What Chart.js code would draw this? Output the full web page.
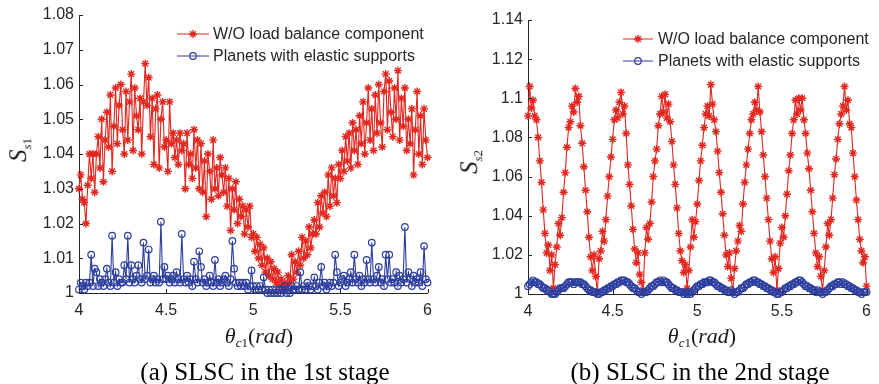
<!DOCTYPE html>
<html>
<head>
<meta charset="utf-8">
<script src="https://cdn.jsdelivr.net/npm/chart.js@4.4.1/dist/chart.umd.min.js"></script>
<style>
  html, body { margin: 0; padding: 0; background: #fff; }
  #wrap { position: relative; width: 879px; height: 384px; overflow: hidden; background: #fff; }
  .pane { position: absolute; top: 0; height: 384px; }
  .lbl { position: absolute; white-space: nowrap; font-family: "Liberation Serif", "Times New Roman", serif; color: #1a1a1a; transform: translate(-50%, -50%); line-height: 1; }
  .ytitle { transform: translate(-50%, -50%) rotate(-90deg); font-size: 25px; }
  .xtitle { font-size: 22px; }
  .xtitle sub, .ytitle sub { font-size: 13px; vertical-align: -0.35em; }
  .cap { font-size: 25px; color: #000; }
</style>
</head>
<body>
<div id="wrap">
  <div class="pane" style="left:0;width:440px;"><canvas id="c1" width="440" height="384"></canvas></div>
  <div class="pane" style="left:440px;width:439px;"><canvas id="c2" width="439" height="384"></canvas></div>
  <div class="lbl ytitle" style="left:19px;top:150px;"><i>S</i><sub><i>s</i>1</sub></div>
  <div class="lbl ytitle" style="left:470px;top:162px;"><i>S</i><sub><i>s</i>2</sub></div>
  <div class="lbl xtitle" style="left:259px;top:337px;"><i>θ</i><sub><i>c</i>1</sub>(<i>rad</i>)</div>
  <div class="lbl xtitle" style="left:702px;top:337px;"><i>θ</i><sub><i>c</i>1</sub>(<i>rad</i>)</div>
  <div class="lbl cap" style="left:265px;top:371px;">(a) SLSC in the 1st stage</div>
  <div class="lbl cap" style="left:700px;top:371px;">(b) SLSC in the 2nd stage</div>
</div>
<script>
// ---- sampling of the carrier angle (rad) ----
const THETA_START = 4;
const THETA_STEP = 0.01;
const THETA_COUNT = 201;

// ---- series names ----
const seriesNames = ['W/O load balance component', 'Planets with elastic supports'];

// ---- axis ticks ----
const xTicks = [4, 4.5, 5, 5.5, 6];
const yTicksStage1 = [1, 1.01, 1.02, 1.03, 1.04, 1.05, 1.06, 1.07, 1.08];
const yTicksStage2 = [1, 1.02, 1.04, 1.06, 1.08, 1.1, 1.12, 1.14];

// ---- (a) 1st stage: W/O load balance component ----
const stage1WithoutLB = [
  1.030,1.034,1.027,1.026,1.020,1.031,1.040,1.033,1.040,1.029,
  1.040,1.045,1.036,1.050,1.032,1.044,1.052,1.042,1.057,1.035,
  1.048,1.059,1.043,1.054,1.060,1.047,1.040,1.058,1.044,1.055,
  1.063,1.041,1.059,1.051,1.047,1.056,1.040,1.055,1.066,1.054,
  1.062,1.045,1.056,1.037,1.053,1.057,1.036,1.050,1.055,1.042,
  1.044,1.035,1.055,1.043,1.046,1.039,1.044,1.037,1.046,1.041,
  1.043,1.030,1.046,1.037,1.040,1.033,1.047,1.036,1.044,1.030,
  1.043,1.029,1.038,1.022,1.040,1.035,1.027,1.044,1.030,1.036,
  1.028,1.039,1.034,1.029,1.036,1.025,1.033,1.018,1.030,1.024,
  1.032,1.020,1.027,1.022,1.025,1.017,1.024,1.019,1.025,1.016,
  1.017,1.012,1.016,1.010,1.014,1.008,1.013,1.006,1.010,1.005,
  1.009,1.004,1.007,1.003,1.006,1.002,1.004,1.001,1.003,1.002,
  1.005,1.003,1.011,1.004,1.009,1.006,1.012,1.008,1.016,1.010,
  1.015,1.011,1.019,1.013,1.017,1.021,1.017,1.026,1.019,1.028,
  1.023,1.029,1.022,1.034,1.025,1.036,1.028,1.033,1.026,1.037,
  1.033,1.041,1.035,1.045,1.038,1.046,1.036,1.049,1.041,1.047,
  1.037,1.051,1.043,1.055,1.040,1.049,1.059,1.044,1.053,1.041,
  1.057,1.046,1.060,1.049,1.042,1.058,1.063,1.047,1.061,1.052,
  1.045,1.059,1.050,1.064,1.044,1.056,1.048,1.059,1.041,1.050,
  1.043,1.053,1.034,1.047,1.058,1.040,1.051,1.037,1.053,1.044,
  1.039
];

// ---- (a) 1st stage: Planets with elastic supports ----
const stage1Elastic = [
  1.001,1.003,1.002,1.001,1.003,1.002,1.003,1.011,1.002,1.007,
  1.006,1.002,1.004,1.003,1.002,1.004,1.007,1.003,1.002,1.0165,
  1.003,1.006,1.002,1.004,1.003,1.003,1.008,1.004,1.0165,1.003,
  1.008,1.004,1.003,1.005,1.008,1.004,1.003,1.0145,1.004,1.005,
  1.0125,1.003,1.004,1.005,1.003,1.004,1.003,1.0205,1.004,1.0075,
  1.004,1.005,1.003,1.004,1.005,1.003,1.006,1.004,1.003,1.017,
  1.004,1.003,1.005,1.003,1.004,1.002,1.009,1.004,1.003,1.012,
  1.0075,1.003,1.004,1.002,1.003,1.005,1.003,1.002,1.0095,1.003,
  1.004,1.002,1.003,1.004,1.005,1.003,1.002,1.004,1.015,1.007,
  1.003,1.002,1.003,1.002,1.003,1.002,1.003,1.001,1.002,1.0065,
  1.002,1.001,1.002,1.001,1.002,1.001,1.0045,1.001,1.000,1.001,
  1.000,1.001,1.000,1.001,1.000,1.001,1.000,1.001,1.002,1.000,
  1.001,1.000,1.002,1.001,1.001,1.002,1.001,1.006,1.001,1.002,
  1.001,1.003,1.002,1.001,1.002,1.0045,1.002,1.001,1.003,1.0075,
  1.002,1.003,1.001,1.002,1.003,1.002,1.003,1.011,1.006,1.002,
  1.003,1.004,1.005,1.002,1.003,1.004,1.006,1.003,1.011,1.004,
  1.003,1.005,1.002,1.004,1.003,1.0095,1.004,1.003,1.0145,1.004,
  1.003,1.005,1.0075,1.003,1.004,1.002,1.011,1.004,1.011,1.003,
  1.004,1.003,1.006,1.002,1.005,1.003,1.004,1.019,1.003,1.006,
  1.004,1.002,1.005,1.003,1.004,1.003,1.006,1.002,1.0135,1.004,
  1.003
];

// ---- (b) 2nd stage: W/O load balance component ----
const stage2WithoutLB = [
  1.091,1.106,1.095,1.099,1.091,1.089,1.080,1.068,1.057,1.043,
  1.031,1.021,1.025,1.012,1.020,1.003,1.015,1.024,1.036,1.030,
  1.039,1.052,1.062,1.075,1.085,1.088,1.096,1.093,1.105,1.098,
  1.101,1.086,1.077,1.065,1.053,1.042,1.029,1.019,1.012,1.020,
  1.009,1.001,1.018,1.022,1.032,1.027,1.038,1.050,1.060,1.070,
  1.079,1.089,1.094,1.090,1.098,1.103,1.092,1.096,1.082,1.066,
  1.056,1.045,1.033,1.023,1.016,1.021,1.010,1.006,1.002,1.021,
  1.034,1.028,1.036,1.047,1.060,1.068,1.074,1.086,1.092,1.101,
  1.093,1.102,1.090,1.097,1.088,1.078,1.066,1.056,1.044,1.031,
  1.022,1.017,1.011,1.015,1.003,1.012,1.024,1.038,1.029,1.037,
  1.046,1.058,1.068,1.076,1.085,1.092,1.096,1.091,1.107,1.097,
  1.089,1.083,1.073,1.062,1.052,1.041,1.030,1.020,1.014,1.021,
  1.008,1.001,1.013,1.022,1.027,1.035,1.032,1.046,1.057,1.066,
  1.074,1.082,1.089,1.092,1.098,1.094,1.106,1.093,1.083,1.071,
  1.060,1.049,1.038,1.027,1.018,1.011,1.019,1.002,1.013,1.026,
  1.034,1.029,1.040,1.051,1.063,1.071,1.082,1.089,1.099,1.092,
  1.100,1.094,1.100,1.089,1.082,1.072,1.064,1.053,1.042,1.031,
  1.021,1.014,1.019,1.009,1.002,1.012,1.024,1.036,1.030,1.038,
  1.049,1.061,1.069,1.079,1.087,1.092,1.096,1.106,1.094,1.099,
  1.087,1.085,1.072,1.060,1.048,1.038,1.028,1.022,1.016,1.019,
  1.004
];

// ---- (b) 2nd stage: Planets with elastic supports ----
const stage2Elastic = [
  1.004,1.005,1.006,1.007,1.006,1.006,1.005,1.005,1.004,1.003,
  1.003,1.002,1.002,1.001,1.000,1.000,1.000,1.001,1.002,1.003,
  1.003,1.003,1.004,1.005,1.006,1.006,1.006,1.005,1.006,1.006,
  1.006,1.006,1.005,1.005,1.004,1.003,1.002,1.002,1.001,1.001,
  1.001,1.000,1.000,1.001,1.001,1.002,1.002,1.003,1.003,1.004,
  1.004,1.005,1.005,1.006,1.006,1.007,1.007,1.007,1.006,1.006,
  1.005,1.004,1.003,1.003,1.002,1.001,1.001,1.000,1.001,1.001,
  1.001,1.002,1.003,1.004,1.004,1.005,1.006,1.006,1.007,1.006,
  1.007,1.006,1.006,1.005,1.004,1.003,1.003,1.002,1.002,1.001,
  1.001,1.001,1.000,1.001,1.000,1.001,1.000,1.001,1.002,1.003,
  1.004,1.004,1.005,1.005,1.006,1.006,1.006,1.007,1.007,1.006,
  1.006,1.005,1.004,1.004,1.003,1.003,1.002,1.002,1.001,1.001,
  1.002,1.001,1.000,1.001,1.001,1.002,1.003,1.003,1.004,1.005,
  1.005,1.006,1.006,1.007,1.007,1.006,1.006,1.005,1.005,1.004,
  1.004,1.003,1.003,1.002,1.002,1.001,1.001,1.000,1.000,1.001,
  1.001,1.002,1.003,1.003,1.004,1.004,1.005,1.005,1.006,1.006,
  1.007,1.007,1.006,1.005,1.004,1.004,1.003,1.003,1.002,1.002,
  1.001,1.002,1.001,1.001,1.000,1.001,1.001,1.002,1.003,1.004,
  1.004,1.005,1.005,1.006,1.006,1.005,1.006,1.005,1.005,1.004,
  1.004,1.003,1.003,1.002,1.002,1.001,1.001,1.000,1.001,1.001,
  1.001
];

// ---------------- rendering ----------------
const RED = '#e3271f';
const BLUE = '#2b3d9e';
const AXIS = '#262626';
const SANS = '"Liberation Sans", Arial, Helvetica, sans-serif';

const theta = Array.from({ length: THETA_COUNT }, (_, i) => +(THETA_START + i * THETA_STEP).toFixed(2));
const toPts = (vals) => vals.map((v, i) => ({ x: theta[i], y: v }));
const fmt = (v) => String(Number(Number(v).toFixed(3)));

// inward MATLAB-style tick marks, drawn through the scales
const innerTicks = {
  id: 'innerTicks',
  afterDraw(chart) {
    const { ctx, chartArea, scales } = chart;
    ctx.save();
    ctx.strokeStyle = AXIS;
    ctx.lineWidth = 1;
    ctx.beginPath();
    scales.x.ticks.forEach(t => {
      const px = Math.round(scales.x.getPixelForValue(t.value)) + 0.5;
      ctx.moveTo(px, chartArea.bottom);
      ctx.lineTo(px, chartArea.bottom - 4);
    });
    scales.y.ticks.forEach(t => {
      const py = Math.round(scales.y.getPixelForValue(t.value)) + 0.5;
      ctx.moveTo(chartArea.left, py);
      ctx.lineTo(chartArea.left + 4, py);
    });
    ctx.stroke();
    ctx.restore();
  }
};

// MATLAB-style legend: line segment with centred marker, text at left
const lineLegend = {
  id: 'lineLegend',
  afterDraw(chart, args, opts) {
    const { ctx } = chart;
    ctx.save();
    ctx.font = '16px ' + SANS;
    ctx.textBaseline = 'middle';
    chart.data.datasets.forEach((ds, i) => {
      const y = opts.y + i * opts.gap;
      ctx.strokeStyle = ds.borderColor;
      ctx.lineWidth = 1;
      ctx.beginPath();
      ctx.moveTo(opts.x0, y);
      ctx.lineTo(opts.x1, y);
      ctx.stroke();
      ctx.fillStyle = ds.pointBackgroundColor;
      ctx.strokeStyle = ds.pointBorderColor;
      ctx.lineWidth = ds.pointBorderWidth;
      Chart.helpers.drawPoint(ctx, {
        pointStyle: ds.pointStyle, radius: ds.pointRadius,
        borderWidth: ds.pointBorderWidth, rotation: 0
      }, (opts.x0 + opts.x1) / 2, y);
      ctx.fillStyle = AXIS;
      ctx.fillText(ds.label, opts.tx, y + 1);
    });
    ctx.restore();
  }
};

function makeChart(id, redVals, blueVals, yMin, yMax, yTickList, cfg) {
  return new Chart(document.getElementById(id), {
    type: 'line',
    data: {
      datasets: [
        {
          label: seriesNames[0], data: toPts(redVals), order: 2,
          borderColor: RED, borderWidth: 1.1, tension: 0,
          pointStyle: 'star', pointRadius: 4, pointBorderWidth: 1.4,
          pointBorderColor: RED, pointBackgroundColor: RED, clip: false
        },
        {
          label: seriesNames[1], data: toPts(blueVals), order: 1,
          borderColor: BLUE, borderWidth: 1.1, tension: 0,
          pointStyle: 'circle', pointRadius: 3.3, pointBorderWidth: 1.2,
          pointBorderColor: BLUE, pointBackgroundColor: 'rgba(0,0,0,0)', clip: false
        }
      ]
    },
    options: {
      responsive: false, animation: false, devicePixelRatio: 1,
      layout: { padding: cfg.padding },
      plugins: {
        legend: { display: false }, tooltip: { enabled: false },
        lineLegend: cfg.legend
      },
      scales: {
        x: {
          type: 'linear', min: 4, max: 6,
          afterBuildTicks(s) { s.ticks = xTicks.map(v => ({ value: v })); },
          afterFit(s) { s.height = 30; },
          grid: { display: true, drawOnChartArea: false, drawTicks: false },
          border: { display: true, color: AXIS, width: 1 },
          ticks: { color: AXIS, padding: 8, maxRotation: 0, autoSkip: false,
                   font: { family: SANS, size: 16 }, callback: fmt }
        },
        y: {
          type: 'linear', min: yMin, max: yMax,
          afterBuildTicks(s) { s.ticks = yTickList.map(v => ({ value: v })); },
          afterFit(s) { s.width = cfg.yWidth; },
          grid: { display: true, drawOnChartArea: false, drawTicks: false },
          border: { display: true, color: AXIS, width: 1 },
          ticks: { color: AXIS, padding: 5, autoSkip: false,
                   font: { family: SANS, size: 16 }, callback: fmt }
        }
      }
    },
    plugins: [innerTicks, lineLegend]
  });
}

makeChart('c1', stage1WithoutLB, stage1Elastic, 1, 1.08, yTicksStage1, {
  padding: { left: 0, right: 7, top: 15, bottom: 61 }, yWidth: 79,
  legend: { x0: 177, x1: 209, tx: 213, y: 34, gap: 22 }
});
makeChart('c2', stage2WithoutLB, stage2Elastic, 1, 1.14, yTicksStage2, {
  padding: { left: 0, right: 7, top: 20, bottom: 60 }, yWidth: 88,
  legend: { x0: 183, x1: 213, tx: 218, y: 39, gap: 22 }
});
</script>
</body>
</html>
